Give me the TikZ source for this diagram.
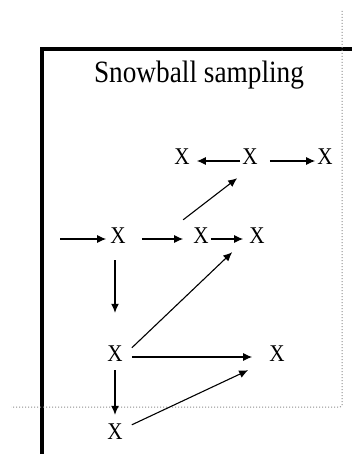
\documentclass[tikz,border=0pt]{standalone}
\usepackage{fontspec}
\setmainfont{Liberation Serif}
\usetikzlibrary{arrows.meta, positioning}
\newcommand{\narrow}[1]{\scalebox{0.88}[1]{#1}}
\tikzstyle{xnode} = [inner sep=2pt, text height=15pt, text depth=7pt, font=\fontsize{24}{24}\selectfont]
\tikzstyle{title} = [inner sep=0pt, anchor=base, font=\fontsize{31}{33}\selectfont]
\tikzstyle{arrow} = [line width=1.1pt, -{Latex[length=9pt,width=8pt]}]
\tikzstyle{frame} = [line width=3.2pt, line cap=rect]
\tikzstyle{guide} = [black!45, line width=1pt, dotted, rounded corners=2pt]

\begin{document}
\begin{tikzpicture}[x=1pt, y=-1pt, node distance=80pt, on grid]
        \useasboundingbox (0,0) rectangle (352,454);
        \draw[frame] (42,456) -- (42,49) -- (354,49);
        \draw[guide] (342,11) -- (342,407) -- (11,407);

        \node[title] (head) at (199,83) {\narrow{Snowball sampling}};

        \node[xnode] (m1) at (118,239) {\narrow{X}};
        \node[xnode, right=83pt of m1] (m2) {\narrow{X}};
        \node[xnode, right=56pt of m2] (m3) {\narrow{X}};
        \node[xnode, above right=78pt and 49pt of m2] (t2) {\narrow{X}};
        \node[xnode, left=68pt of t2] (t1) {\narrow{X}};
        \node[xnode, right=75pt of t2] (t3) {\narrow{X}};
        \node[xnode, below left=118pt and 3pt of m1] (b1) {\narrow{X}};
        \node[xnode, right=162pt of b1] (b2) {\narrow{X}};
        \node[xnode, below=78pt of b1] (c1) {\narrow{X}};
        \coordinate[left=58pt of m1] (src);

        \draw[arrow, shorten >=5pt] (t2) -- (t1);
        \draw[arrow, shorten <=10pt] (t2) -- (t3);
        \draw[arrow, shorten >=2pt] (src) -- (m1);
        \draw[arrow, shorten <=14pt, shorten >=8pt] (m1) -- (m2);
        \draw[arrow, shorten >=4pt] (m2) -- (m3);
        \draw[arrow] ([xshift=-8pt,yshift=6pt]m2.north west) -- ([xshift=-3pt,yshift=-4pt]t2.south west);
        \draw[arrow, shorten <=8pt, shorten >=31pt] (b1.north |- m1.south) -- (b1.north);
        \draw[arrow, shorten >=7pt] (b1) -- (c1);
        \draw[arrow, shorten <=7pt, shorten >=15pt] (b1) -- (b2);
        \draw[arrow] ([xshift=7pt,yshift=-4pt]b1.north east) -- ([xshift=-15pt]m3.south west);
        \draw[arrow] ([xshift=7pt,yshift=-3pt]c1.north east) -- ([xshift=-19pt]b2.south west);
    \end{tikzpicture}
\end{document}
